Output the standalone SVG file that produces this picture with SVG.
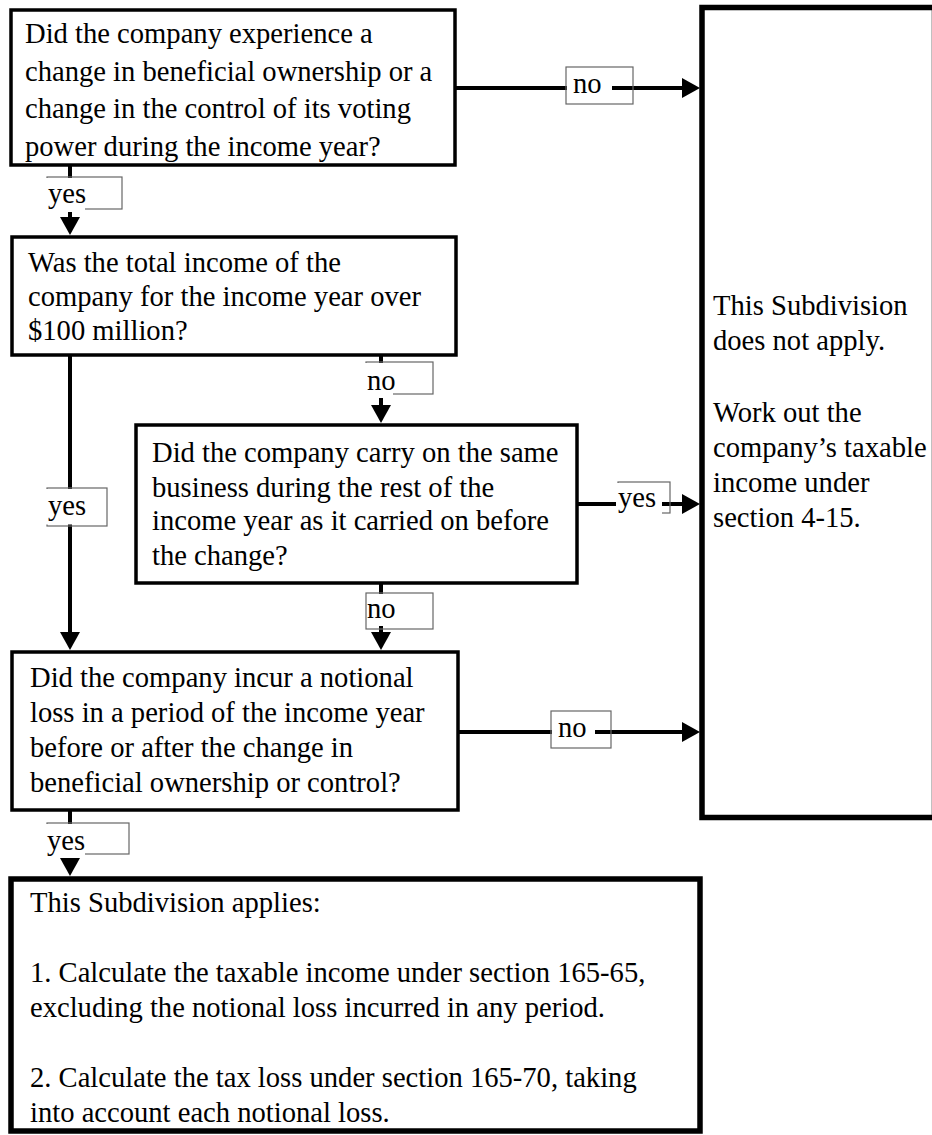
<svg xmlns="http://www.w3.org/2000/svg" width="932" height="1135" viewBox="0 0 932 1135">
<style>
.t{font-family:"Liberation Serif","Times New Roman",serif;font-size:28.6px;fill:#000}
.box{fill:#fff;stroke:#000;stroke-width:3.5}
.bold{fill:#fff;stroke:#000;stroke-width:5.5}
.con{fill:none;stroke:#000;stroke-width:4}
.lbl{fill:none;stroke:#666;stroke-width:1.2}
.bg{fill:#fff}
</style>
<defs>
<marker id="arr" markerUnits="userSpaceOnUse" markerWidth="18" markerHeight="20" refX="8" refY="10" orient="auto">
<path d="M0,0 L18,10 L0,20 Z" fill="#000"/>
</marker>
</defs>
<rect width="932" height="1135" fill="#fff"/>

<g id="n_right">
<rect class="bold" x="702" y="7.5" width="232.5" height="810"/>
<text class="t"><tspan x="713" y="315">This Subdivision</tspan><tspan x="713" y="350">does not apply.</tspan><tspan x="713" y="422">Work out the</tspan><tspan x="713" y="457">company’s taxable</tspan><tspan x="713" y="492">income under</tspan><tspan x="713" y="527">section 4-15.</tspan></text>
</g>

<g id="n_q1">
<rect class="box" x="11" y="10" width="444" height="155"/>
<text class="t"><tspan x="25" y="43">Did the company experience a</tspan><tspan x="25" y="81">change in beneficial ownership or a</tspan><tspan x="25" y="118">change in the control of its voting</tspan><tspan x="25" y="156">power during the income year?</tspan></text>
</g>

<g id="n_q2">
<rect class="box" x="12" y="237" width="444" height="118"/>
<text class="t"><tspan x="28" y="272">Was the total income of the</tspan><tspan x="28" y="306">company for the income year over</tspan><tspan x="28" y="340">$100 million?</tspan></text>
</g>

<g id="n_q3">
<rect class="box" x="136" y="425" width="441" height="158"/>
<text class="t"><tspan x="152" y="462">Did the company carry on the same</tspan><tspan x="152" y="497">business during the rest of the</tspan><tspan x="152" y="530">income year as it carried on before</tspan><tspan x="152" y="565">the change?</tspan></text>
</g>

<g id="n_q4">
<rect class="box" x="12" y="652" width="446" height="158"/>
<text class="t"><tspan x="30" y="687">Did the company incur a notional</tspan><tspan x="30" y="722">loss in a period of the income year</tspan><tspan x="30" y="757">before or after the change in</tspan><tspan x="30" y="792">beneficial ownership or control?</tspan></text>
</g>

<g id="n_applies">
<rect class="bold" x="11" y="879" width="689" height="252"/>
<text class="t"><tspan x="30" y="912">This Subdivision applies:</tspan><tspan x="30" y="982">1. Calculate the taxable income under section 165-65,</tspan><tspan x="30" y="1017">excluding the notional loss incurred in any period.</tspan><tspan x="30" y="1087">2. Calculate the tax loss under section 165-70, taking</tspan><tspan x="30" y="1122">into account each notional loss.</tspan></text>
</g>

<g id="connectors">
<path class="con" d="M455,88 H690" marker-end="url(#arr)"/>
<path class="con" d="M70,165 V225" marker-end="url(#arr)"/>
<path class="con" d="M381,355 V413" marker-end="url(#arr)"/>
<path class="con" d="M577,504 H690" marker-end="url(#arr)"/>
<path class="con" d="M70,355 V640" marker-end="url(#arr)"/>
<path class="con" d="M381,583 V640" marker-end="url(#arr)"/>
<path class="con" d="M458,732 H690" marker-end="url(#arr)"/>
<path class="con" d="M70,810 V866" marker-end="url(#arr)"/>

<g id="l1"><rect class="lbl" x="566" y="67" width="67" height="37"/><rect class="bg" x="567" y="68" width="45" height="35"/><text class="t" x="573" y="93">no</text></g>
<g id="l2"><rect class="lbl" x="47" y="177" width="75" height="32"/><rect class="bg" x="45" y="178" width="40" height="34"/><text class="t" x="48" y="203">yes</text></g>
<g id="l3"><rect class="lbl" x="366" y="362" width="67" height="32"/><rect class="bg" x="364" y="363" width="29" height="35"/><text class="t" x="367" y="390">no</text></g>
<g id="l4"><rect class="lbl" x="47" y="488" width="60" height="38"/><rect class="bg" x="45" y="489" width="40" height="35.5"/><text class="t" x="48" y="515">yes</text></g>
<g id="l5"><rect class="lbl" x="618" y="482" width="52" height="31"/><rect class="bg" x="616" y="483" width="46" height="32"/><text class="t" x="618" y="507">yes</text></g>
<g id="l6"><rect class="lbl" x="366" y="593" width="67" height="36"/><rect class="bg" x="367" y="594" width="26" height="32"/><text class="t" x="367" y="618">no</text></g>
<g id="l7"><rect class="lbl" x="551" y="711" width="60" height="37"/><rect class="bg" x="552" y="712" width="43" height="35"/><text class="t" x="558" y="737">no</text></g>
<g id="l8"><rect class="lbl" x="47" y="823" width="82" height="31"/><rect class="bg" x="45" y="824" width="40" height="34"/><text class="t" x="47" y="850">yes</text></g>
</g>
</svg>
